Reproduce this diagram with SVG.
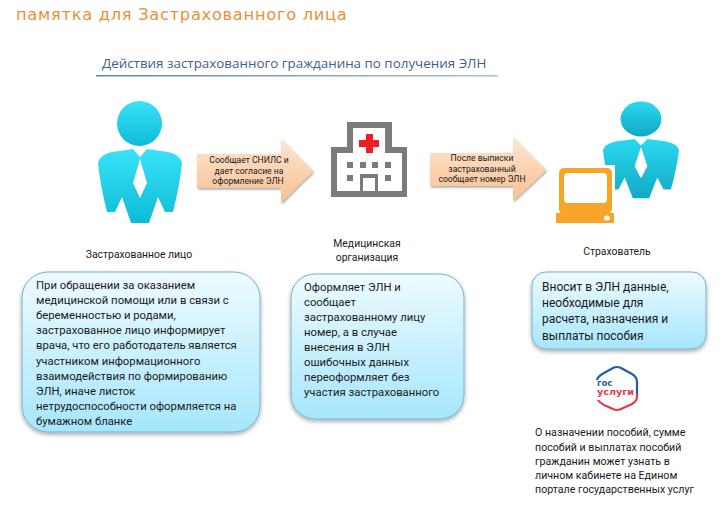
<svg xmlns="http://www.w3.org/2000/svg" width="724" height="513" viewBox="0 0 724 513">
<style>
text{font-family:Roboto,"Open Sans","DejaVu Sans",sans-serif;fill:#1a1a1a}
.cap{font-size:10.4px;text-anchor:middle}
.arr{font-size:8.6px;text-anchor:middle}
.box{font-size:11.3px}
.big{font-size:12px}
.note{font-size:10.65px}
.bx{fill:url(#boxg);stroke:#74b4c8;stroke-width:1;filter:url(#sh)}
.w{fill:#7b7b7b}
.or{fill:#f7a427}
</style>
<defs>
<linearGradient id="boxg" x1="0" y1="0" x2="0" y2="1"><stop offset="0" stop-color="#eefbff"/><stop offset="1" stop-color="#a6e6fc"/></linearGradient>
<linearGradient id="cy" x1="0" y1="0" x2="0" y2="1"><stop offset="0" stop-color="#3ae2f8"/><stop offset="1" stop-color="#0cbcd6"/></linearGradient>
<linearGradient id="cy2" x1="0" y1="0" x2="0" y2="1"><stop offset="0" stop-color="#2bd8f0"/><stop offset="1" stop-color="#12a9c4"/></linearGradient>
<linearGradient id="ar" x1="0" y1="0" x2="0" y2="1"><stop offset="0" stop-color="#fde6d2"/><stop offset="1" stop-color="#f9c090"/></linearGradient>
<linearGradient id="rule" x1="0" y1="0" x2="1" y2="0"><stop offset="0" stop-color="#5b86b8"/><stop offset="1" stop-color="#a9bfd8"/></linearGradient>
<filter id="sh" x="-10%" y="-10%" width="120%" height="125%"><feDropShadow dx="0" dy="2" stdDeviation="2" flood-color="#000" flood-opacity=".35"/></filter>
<filter id="sa" x="-10%" y="-10%" width="125%" height="125%"><feDropShadow dx="1" dy="1.5" stdDeviation="1.2" flood-color="#000" flood-opacity=".35"/></filter>
<path id="man" d="M-7 -15 L-28 -12 Q-41 -9 -42 -1 Q-40 20 -33 48 L-25 48 L-18 33 L-9 59 L9 59 L18 33 L25 48 L33 48 Q40 20 42 -1 Q41 -9 28 -12 L7 -15 L0 -7 Z M0 -5 L7 19 L0 34 L-7 19 Z" fill-rule="evenodd"/>
</defs>
<rect width="724" height="513" fill="#fff"/>
<g id="title"><text x="16" y="20" style="font-family:'DejaVu Sans',sans-serif;font-size:16.3px;letter-spacing:.7px;fill:#e8913a">памятка для Застрахованного лица</text></g>
<g id="heading"><text x="102" y="68" style="font-family:'Open Sans',sans-serif;font-size:13.4px;fill:#3f5f8e">Действия застрахованного гражданина по получения ЭЛН</text><rect x="96" y="75" width="402" height="1.5" fill="url(#rule)"/></g>
<g id="connectors">
<path d="M197 154 H281 V139 L313 171 L281 203 V188 H197 Z" fill="url(#ar)" filter="url(#sa)"/>
<path d="M430 153 H513 V137 L546 170 L513 201 V186 H430 Z" fill="url(#ar)" filter="url(#sa)"/>
<text class="arr" x="249" y="163">Сообщает СНИЛС и</text><text class="arr" x="249" y="174">дает согласие на</text><text class="arr" x="248" y="184">оформление ЭЛН</text>
<text class="arr" x="482" y="161">После выписки</text><text class="arr" x="482" y="172">застрахованный</text><text class="arr" x="482" y="182">сообщает номер ЭЛН</text>
</g>
<g id="insured"><circle cx="139.500" cy="123.500" r="22.500" fill="url(#cy)"/><use href="#man" x="140" y="164" fill="url(#cy)"/><text class="cap" x="139" y="258">Застрахованное лицо</text></g>
<g id="hospital">
<path d="M347 122 H392 V147 H407 V197 H331 V147 H347 Z" class="w"/>
<path d="M353 128 H385 V153 H402 V191 H378 V174 H360 V191 H337 V153 H353 Z" fill="#fff"/>
<rect x="363" y="178" width="12" height="13" fill="#fff"/>
<path d="M366 134 H373 V140 H379 V147 H373 V153 H366 V147 H359 V140 H366 Z" fill="#ee1c25"/>
<g class="w"><rect x="347" y="162" width="6" height="6"/><rect x="360" y="162" width="6" height="6"/><rect x="372" y="162" width="6" height="6"/><rect x="385" y="162" width="6" height="6"/><rect x="347" y="175" width="6" height="6"/><rect x="385" y="175" width="6" height="6"/></g>
<text class="cap" x="367" y="247">Медицинская</text><text class="cap" x="367" y="261">организация</text></g>
<g id="insurer"><ellipse cx="641" cy="119" rx="20.500" ry="17.500" fill="url(#cy2)"/><use href="#man" transform="translate(641 151) scale(.905 .8)" fill="url(#cy2)"/>
<rect x="556" y="165" width="59" height="50" fill="#fff"/>
<rect x="559" y="168" width="53" height="46" rx="5" class="or"/>
<rect x="564" y="173" width="43" height="30" rx="4" fill="#fff"/>
<rect x="556" y="213" width="58" height="10" class="or"/><ellipse cx="607" cy="218" rx="3" ry="2.500" fill="#fff"/>
<text class="cap" x="617" y="255">Страхователь</text></g>
<g id="box-insured"><rect class="bx" x="22" y="272" width="238" height="160" rx="26"/>
<text class="box" x="36" y="289">При обращении за оказанием</text><text class="box" x="36" y="304">медицинской помощи или в связи с</text><text class="box" x="36" y="319">беременностью и родами,</text><text class="box" x="36" y="334">застрахованное лицо информирует</text><text class="box" x="36" y="349">врача, что его работодатель является</text><text class="box" x="36" y="365">участником информационного</text><text class="box" x="36" y="380">взаимодействия по формированию</text><text class="box" x="36" y="395">ЭЛН, иначе листок</text><text class="box" x="36" y="410">нетрудоспособности оформляется на</text><text class="box" x="36" y="425">бумажном бланке</text></g>
<g id="box-medical"><rect class="bx" x="291" y="274" width="173" height="145" rx="24"/>
<text class="box" x="304" y="291">Оформляет ЭЛН и</text><text class="box" x="304" y="306">сообщает</text><text class="box" x="304" y="321">застрахованному лицу</text><text class="box" x="304" y="336">номер, а в случае</text><text class="box" x="304" y="351">внесения в ЭЛН</text><text class="box" x="304" y="366">ошибочных данных</text><text class="box" x="304" y="381">переоформляет без</text><text class="box" x="304" y="396">участия застрахованного</text></g>
<g id="box-insurer"><rect class="bx" x="532" y="272" width="174" height="77" rx="14"/>
<text class="big" x="542" y="291">Вносит в ЭЛН данные,</text><text class="big" x="542" y="307">необходимые для</text><text class="big" x="542" y="323">расчета, назначения и</text><text class="big" x="542" y="340">выплаты пособия</text></g>
<g id="gosuslugi">
<path d="M597 380 Q598 376 604 373 L613 368 Q617 366 621 368 L632 374 Q637 377 637 382 V394" fill="none" stroke="#1f5fa8" stroke-width="2.200"/>
<path d="M637 394 V397 Q637 401 632 404 L621 409 Q617 411 613 409 L604 405 Q600 403 598 400" fill="none" stroke="#e8394a" stroke-width="2.200"/>
<text x="597" y="386" style="font-family:'DejaVu Sans',sans-serif;font-size:8.500px;font-weight:700;fill:#1f5fa8">гос</text><text x="597" y="395" textLength="37" lengthAdjust="spacingAndGlyphs" style="font-family:'DejaVu Sans',sans-serif;font-size:8.500px;font-weight:700;fill:#e8394a">услуги</text></g>
<g id="note"><text class="note" x="535" y="436">О назначении пособий, сумме</text><text class="note" x="535" y="451">пособий и выплатах пособий</text><text class="note" x="535" y="465">гражданин может узнать в</text><text class="note" x="535" y="479">личном кабинете на Едином</text><text class="note" x="535" y="493">портале государственных услуг</text></g>
</svg>
